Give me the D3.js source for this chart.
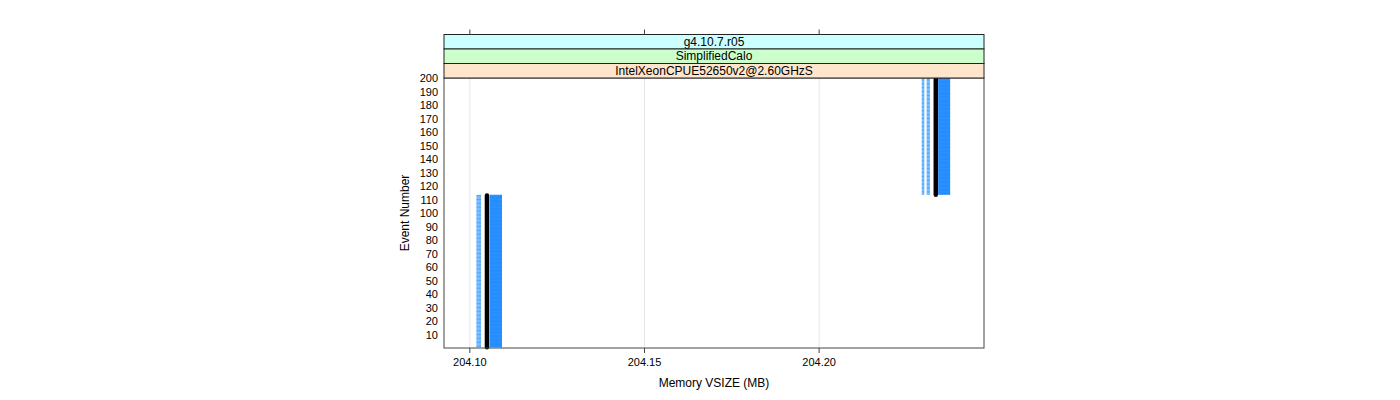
<!DOCTYPE html>
<html><head><meta charset="utf-8">
<script src="https://cdn.jsdelivr.net/npm/d3@7"></script>
<style>body{margin:0;background:#fff;}svg{display:block;font-family:"Liberation Sans",Arial,Helvetica,sans-serif;}</style>
</head><body>
<script>
// ---- data ----
const stripLabels = ["g4.10.7.r05", "SimplifiedCalo", "IntelXeonCPUE52650v2@2.60GHzS"];
const stripColors = ["#ccffff", "#ccffcc", "#ffe5cc"];
const xTicks = [204.10, 204.15, 204.20];
const yTicks = [10,20,30,40,50,60,70,80,90,100,110,120,130,140,150,160,170,180,190,200];
const groupFirst = [1, 114];
const groupLast = [113, 200];
const light1Lo = [204.1019, 204.2294];
const light1Hi = [204.1026, 204.2301];
const light2Lo = [204.1026, 204.2308];
const light2Hi = [204.1032, 204.2317];
const medianX  = [204.1049, 204.2334];
const bandLo   = [204.1057, 204.2341];
const bandHi   = [204.1092, 204.2375];
const xDomain = [204.0926, 204.2472];
const yDomain = [0, 200];

const W = 1400, H = 400;
const P = {left: 444, right: 984, top: 78, bottom: 348};
const svg = d3.select("body").append("svg").attr("width", W).attr("height", H);
const x = d3.scaleLinear().domain(xDomain).range([P.left, P.right]);
const y = d3.scaleLinear().domain(yDomain).range([P.bottom, P.top]);

// grid
svg.append("g").selectAll("line").data(xTicks).join("line")
  .attr("x1", d => x(d)).attr("x2", d => x(d)).attr("y1", P.top).attr("y2", P.bottom)
  .attr("stroke", "#e6e6e6").attr("stroke-width", 1);

const groups = d3.range(groupFirst.length);
const g = svg.append("g");
groups.forEach(i => {
  const ev = d3.range(groupFirst[i], groupLast[i] + 1);
  const yTop = y(groupLast[i] + 0.5), yBot = y(groupFirst[i] - 0.5);
  // light striped lines
  [[light1Lo[i], light1Hi[i]], [light2Lo[i], light2Hi[i]]].forEach(([lo, hi]) => {
    g.append("rect").attr("x", x(lo)).attr("width", x(hi) - x(lo)).attr("y", yTop).attr("height", yBot - yTop)
      .attr("fill", "#bfdfff");
    g.append("g").selectAll("line").data(ev).join("line")
      .attr("x1", x(lo)).attr("x2", x(hi)).attr("y1", d => y(d)).attr("y2", d => y(d))
      .attr("stroke", "#3d9eff").attr("stroke-width", 0.9);
  });
  // band
  g.append("rect").attr("x", x(bandLo[i])).attr("width", x(bandHi[i]) - x(bandLo[i]))
    .attr("y", yTop).attr("height", yBot - yTop).attr("fill", "#1a86ff");
  g.append("g").selectAll("line").data(ev).join("line")
    .attr("x1", x(bandLo[i])).attr("x2", x(bandHi[i])).attr("y1", d => y(d)).attr("y2", d => y(d))
    .attr("stroke", "#3a9bff").attr("stroke-width", 0.6);
  // median
  g.append("line").attr("x1", x(medianX[i])).attr("x2", x(medianX[i]))
    .attr("y1", y(groupLast[i])).attr("y2", y(groupFirst[i] - 0.5))
    .attr("stroke", "#000").attr("stroke-width", 4.5).attr("stroke-linecap", "round");
});

// panel border
svg.append("rect").attr("x", P.left).attr("y", P.top).attr("width", P.right - P.left).attr("height", P.bottom - P.top)
  .attr("fill", "none").attr("stroke", "#444").attr("stroke-width", 1);

// strips
const sh = 14.5;
stripLabels.forEach((lab, k) => {
  const yy = P.top - sh * (stripLabels.length - k);
  svg.append("rect").attr("x", P.left).attr("y", yy).attr("width", P.right - P.left).attr("height", sh)
    .attr("fill", stripColors[k]).attr("stroke", "#222").attr("stroke-width", 1);
  svg.append("text").attr("x", (P.left + P.right) / 2).attr("y", yy + sh / 2 + 4.2)
    .attr("text-anchor", "middle").attr("font-size", 12).attr("fill", "#000").text(lab);
});
const stripTop = P.top - sh * stripLabels.length;

// x axis bottom
const xb = svg.append("g");
xb.selectAll("line").data(xTicks).join("line")
  .attr("x1", d => x(d)).attr("x2", d => x(d)).attr("y1", P.bottom).attr("y2", P.bottom + 5)
  .attr("stroke", "#444");
xb.selectAll("text").data(xTicks).join("text")
  .attr("x", d => x(d)).attr("y", P.bottom + 18).attr("text-anchor", "middle")
  .attr("font-size", 11).text(d => d3.format(".2f")(d));
// x axis top ticks
svg.append("g").selectAll("line").data(xTicks).join("line")
  .attr("x1", d => x(d)).attr("x2", d => x(d)).attr("y1", stripTop - 5).attr("y2", stripTop)
  .attr("stroke", "#444");

// y axis labels
svg.append("g").selectAll("text").data(yTicks).join("text")
  .attr("x", P.left - 6).attr("y", d => y(d) + 4).attr("text-anchor", "end")
  .attr("font-size", 11).text(d => d);

// axis titles
svg.append("text").attr("x", (P.left + P.right) / 2).attr("y", P.bottom + 39)
  .attr("text-anchor", "middle").attr("font-size", 12).text("Memory VSIZE (MB)");
svg.append("text").attr("transform", `translate(${P.left - 35},${(P.top + P.bottom) / 2}) rotate(-90)`)
  .attr("text-anchor", "middle").attr("font-size", 12).text("Event Number");
</script>
</body></html>
